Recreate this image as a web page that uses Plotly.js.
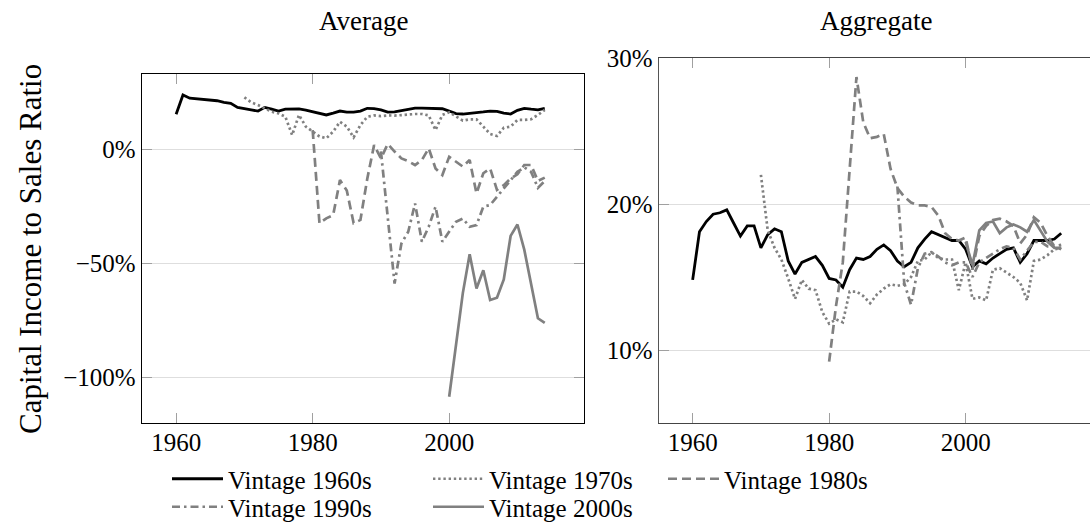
<!DOCTYPE html>
<html>
<head>
<meta charset="utf-8">
<script src="https://cdn.plot.ly/plotly-3.0.1.min.js"></script>
<style>html,body{margin:0;padding:0;background:#fff}#chart{width:1090px;height:524px}</style>
</head>
<body>
<div id="chart"></div>
<script>
const years = [1960,1961,1962,1963,1964,1965,1966,1967,1968,1969,
  1970,1971,1972,1973,1974,1975,1976,1977,1978,1979,
  1980,1981,1982,1983,1984,1985,1986,1987,1988,1989,
  1990,1991,1992,1993,1994,1995,1996,1997,1998,1999,
  2000,2001,2002,2003,2004,2005,2006,2007,2008,2009,
  2010,2011,2012,2013,2014];
const seriesNames = ["Vintage 1960s","Vintage 1970s","Vintage 1980s","Vintage 1990s","Vintage 2000s"];

// Average (left panel), percent
const avg1960 = [15.2,23.6,22.2,21.9,21.7,21.6,21.1,20.4,20.0,18.2,
  17.5,17.1,16.6,18.2,17.4,16.6,17.4,17.4,17.5,17.0,
  16.4,15.7,14.9,15.7,16.6,16.1,16.1,16.6,17.8,17.7,
  17.1,16.1,16.2,16.8,17.4,17.9,17.9,17.9,17.8,17.6,
  16.6,15.5,15.3,15.5,15.9,16.2,16.6,16.5,15.7,15.3,
  16.9,17.8,17.4,17.1,17.8];
const avg1970 = [22.6,20.4,19.2,17.8,16.3,15.6,14.1,6.1,14.9,9.8,
  7.6,5.5,4.7,7.6,11.9,9.8,5.1,10.5,14.1,14.7,
  14.4,14.7,14.6,14.9,14.9,15.3,15.3,14.7,8.3,14.9,
  16.1,14.4,12.4,13.0,13.0,9.8,6.6,5.7,9.3,9.8,
  12.7,12.7,13.0,14.9,17.1];
const avg1980 = [8.3,-32.5,-30.3,-28.9,-13.6,-18.1,-32.4,-31.0,-13.0,1.7,
  -4.1,2.2,-1.1,-4.1,-5.3,-7.0,-4.8,0.3,-8.5,-11.4,
  -3.4,-5.5,-7.7,-4.8,-19.4,-10.6,-8.5,-17.9,-15.8,-12.9,
  -11.0,-7.0,-7.0,-14.0,-12.5];
const avg1990 = [-1.0,-30.0,-58.8,-41.3,-36.2,-23.8,-40.5,-34.0,-25.2,-40.5,
  -36.2,-31.8,-30.4,-34.0,-33.3,-25.2,-24.5,-20.9,-17.2,-13.6,
  -10.0,-8.0,-10.0,-17.0,-14.0];
const avg2000 = [-108.3,-86,-63,-46,-61,-53,-66,-65,-57,-38,-33,-44,-59,-74,-76];

// Aggregate (right panel), percent
const agg1960 = [14.8,18.1,18.8,19.3,19.4,19.6,18.7,17.8,18.5,18.5,
  17.0,17.9,18.3,18.1,16.1,15.2,16.0,16.2,16.4,15.8,
  14.9,14.8,14.3,15.5,16.3,16.2,16.4,16.9,17.2,16.8,
  16.1,15.7,16.0,17.0,17.6,18.1,17.9,17.7,17.5,17.5,
  16.9,15.7,16.1,15.9,16.3,16.6,16.9,17.0,16.0,16.6,
  17.5,17.5,17.5,17.6,18.0];
const agg1970 = [22.0,18.2,17.0,16.2,14.9,13.5,14.8,14.2,14.1,12.6,
  11.8,12.1,11.9,14.0,14.0,13.7,13.2,13.8,14.2,14.5,
  14.4,14.5,15.0,16.1,16.2,16.7,16.3,16.2,16.2,14.1,
  16.0,13.5,13.6,13.4,15.5,15.6,15.3,15.0,14.6,13.4,
  16.1,16.2,16.5,16.9,17.0];
const agg1980 = [9.2,13.0,16.0,22.3,28.7,25.6,24.5,24.6,24.8,22.4,
  21.1,20.5,20.1,19.9,19.9,19.8,19.2,18.0,17.6,17.5,
  17.7,15.5,17.8,18.5,18.9,19.0,18.8,18.5,17.3,17.9,
  19.1,18.7,17.8,17.1,16.9];
const agg1990 = [21.2,14.6,13.1,15.6,16.6,16.7,16.4,16.0,15.8,16.0,
  16.0,15.0,16.0,16.3,16.6,16.9,17.1,17.0,16.2,16.8,
  17.4,17.4,17.1,17.1,17.2];
const agg2000 = [17.4,15.8,18.2,18.7,18.8,18.0,18.4,18.6,18.4,18.1,18.9,18.1,17.4,17.0,17.0];

const xTicks = [1960,1980,2000];
const leftTicks = [-100,-50,0];
const leftTickText = ["\u2212100%","\u221250%","0%"];
const rightTicks = [10,20,30];
const rightTickText = ["10%","20%","30%"];

const GRAY = "#808080";
const styles = [
  {color:"#000000", width:2.8, dash:"solid"},
  {color:GRAY, width:2.7, dash:"2.4px,2.8px"},
  {color:GRAY, width:2.7, dash:"9px,5px"},
  {color:GRAY, width:2.7, dash:"8px,4px,2.5px,4px"},
  {color:GRAY, width:2.7, dash:"solid"}
];
const legendIds = ["legend","legend2","legend3","legend4","legend5"];
const leftData = [avg1960, avg1970, avg1980, avg1990, avg2000];
const rightData = [agg1960, agg1970, agg1980, agg1990, agg2000];

const traces = [];
leftData.forEach((vals, i) => {
  const xs = years.slice(years.length - vals.length);
  traces.push({x: xs, y: vals, type: "scatter", mode: "lines", name: seriesNames[i],
    line: styles[i], xaxis: "x", yaxis: "y", legend: legendIds[i], showlegend: true, hoverinfo: "skip"});
});
rightData.forEach((vals, i) => {
  const xs = years.slice(years.length - vals.length);
  traces.push({x: xs, y: vals, type: "scatter", mode: "lines", name: seriesNames[i],
    line: styles[i], xaxis: "x2", yaxis: "y2", showlegend: false, hoverinfo: "skip"});
});

const W = 1090, H = 524;
const px = v => v / W;
const py = v => (H - v) / H;
const FAM = "Liberation Serif, Times New Roman, serif";
const TICKFONT = {family: FAM, size: 25, color: "#000"};
const TEXTFONT = {family: FAM, size: 27, color: "#000"};
const LEGFONT = {family: FAM, size: 25, color: "#000"};
const YTITLEFONT = {family: FAM, size: 31, color: "#000"};

const commonX = {tickvals: xTicks, ticks: "inside", ticklen: 10, tickwidth: 1, tickcolor: "#a0a0a0",
  showgrid: false, zeroline: false, showline: true, mirror: "ticks", fixedrange: true, tickfont: TICKFONT,
  ticklabelstandoff: -3};
const commonY = {ticks: "inside", ticklen: 10, tickwidth: 1, tickcolor: "#a0a0a0",
  showgrid: true, gridcolor: "#dedede", gridwidth: 1, zeroline: false, showline: true, fixedrange: true,
  tickfont: TICKFONT};

function legendAt(x, yCenter) {
  return {x: px(x), y: py(yCenter - 2), xanchor: "left", yanchor: "middle", bgcolor: "rgba(0,0,0,0)",
    borderwidth: 0, itemwidth: 51, font: LEGFONT, itemclick: false, itemdoubleclick: false};
}

const layout = {
  width: W, height: H,
  margin: {l: 0, r: 0, t: 0, b: 0, autoexpand: false},
  paper_bgcolor: "#fff", plot_bgcolor: "#fff",
  font: TICKFONT,
  xaxis: Object.assign({}, commonX, {domain: [px(142), px(584)], range: [1955.0, 2019.75], anchor: "y",
    linecolor: "#000", linewidth: 1.3}),
  yaxis: Object.assign({}, commonY, {domain: [py(423), py(74)], range: [-119.8, 32.8], anchor: "x",
    tickvals: leftTicks, ticktext: leftTickText, linecolor: "#000", linewidth: 1.3, mirror: "ticks"}),
  xaxis2: Object.assign({}, commonX, {domain: [px(659), 1], range: [1955.07, 2018.22], anchor: "y2",
    linecolor: "#444", linewidth: 1.3}),
  yaxis2: Object.assign({}, commonY, {domain: [py(423), py(58)], range: [5, 30], anchor: "x2",
    tickvals: rightTicks, ticktext: rightTickText, linecolor: "#555", linewidth: 1.3, mirror: false}),
  legend: legendAt(167, 481),
  legend2: legendAt(428, 481),
  legend3: legendAt(663, 481),
  legend4: legendAt(167, 509),
  legend5: legendAt(428, 509),
  annotations: [
    {text: "Average", x: px(363), y: py(21), xref: "paper", yref: "paper", showarrow: false,
      xanchor: "center", yanchor: "middle", font: TEXTFONT},
    {text: "Aggregate", x: px(876), y: py(21), xref: "paper", yref: "paper", showarrow: false,
      xanchor: "center", yanchor: "middle", font: TEXTFONT},
    {text: "Capital Income to Sales Ratio", x: px(30), y: py(249), xref: "paper", yref: "paper",
      showarrow: false, textangle: -90, xanchor: "center", yanchor: "middle", font: YTITLEFONT}
  ],
  showlegend: true
};

Plotly.newPlot("chart", traces, layout, {displayModeBar: false, staticPlot: true});
</script>
</body>
</html>
